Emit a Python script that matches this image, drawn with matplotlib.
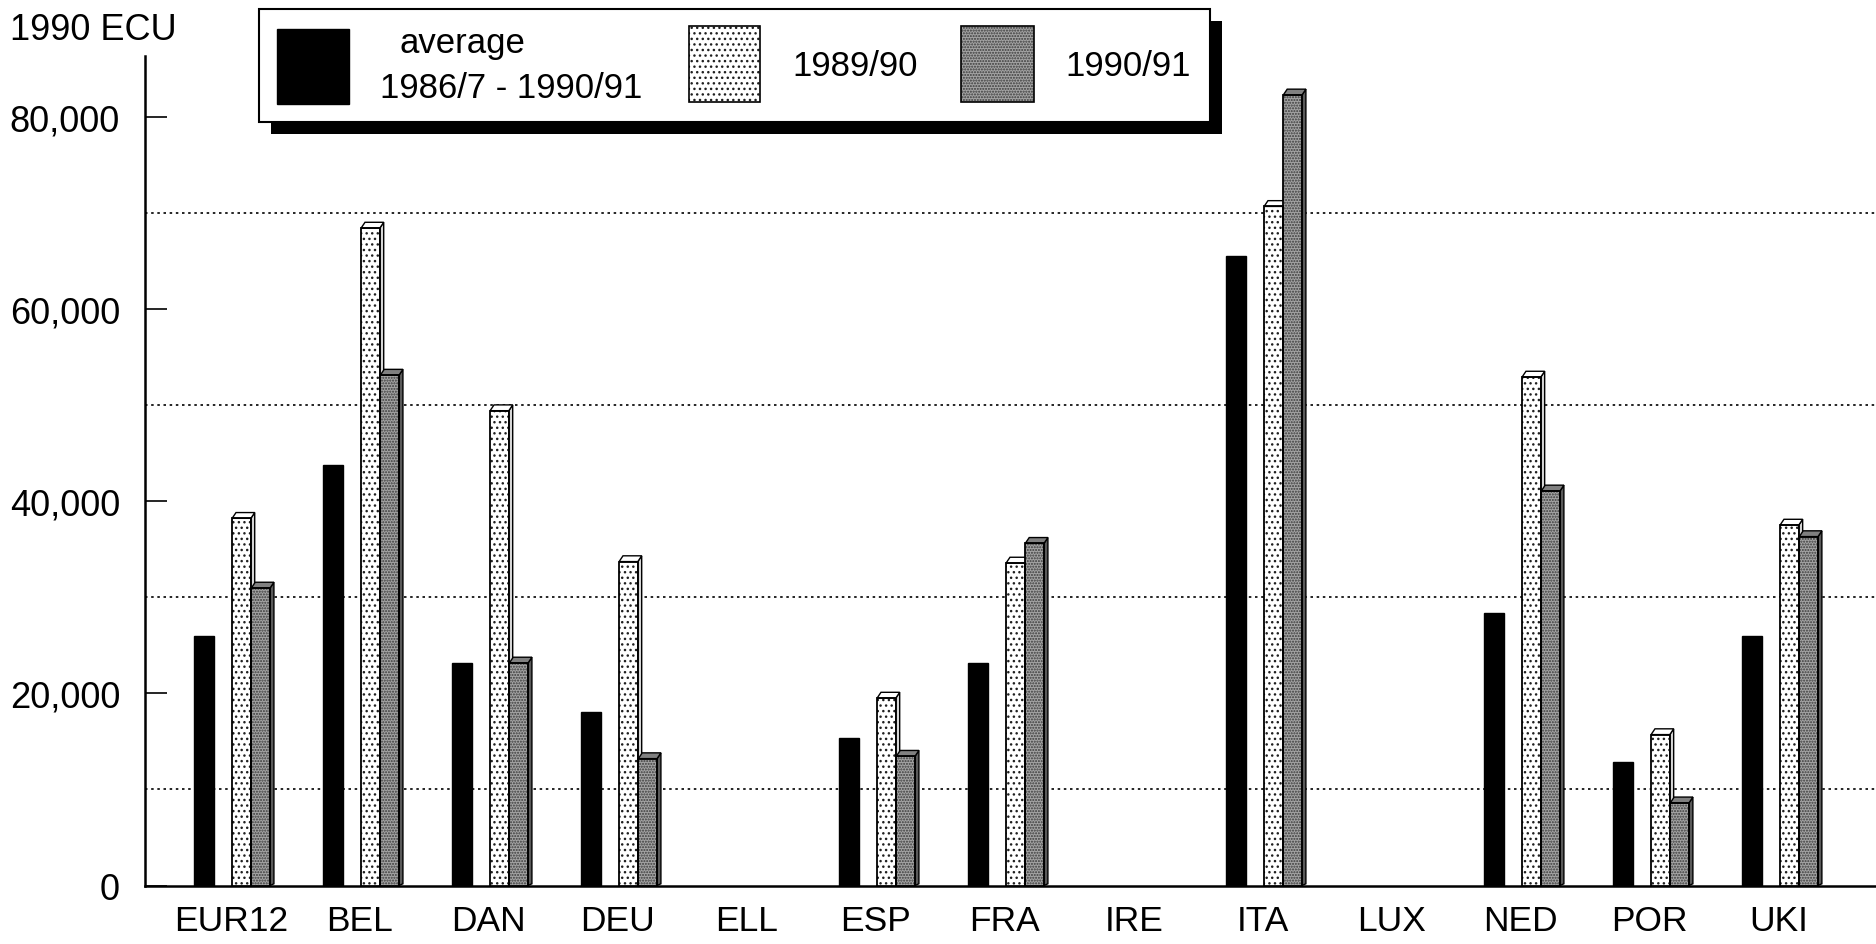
import numpy as np
import matplotlib
matplotlib.use('Agg')
import matplotlib.pyplot as plt
from matplotlib.patches import Rectangle, Polygon
from matplotlib.ticker import FuncFormatter

plt.rcParams['font.family'] = ['Liberation Sans', 'DejaVu Sans']
plt.rcParams['hatch.linewidth'] = 1.0

# data (1990 ECU), nan = no bar
countries = ['EUR12', 'BEL', 'DAN', 'DEU', 'ELL', 'ESP', 'FRA',
             'IRE', 'ITA', 'LUX', 'NED', 'POR', 'UKI']
avg_8691 = [26000, 43700, 23200, 18000, np.nan, 15300, 23100,
            np.nan, 65500, np.nan, 28400, 12800, 26000]
val_8990 = [38200, 68400, 49400, 33700, np.nan, 19500, 33550,
            np.nan, 70650, np.nan, 52900, 15700, 37500]
val_9091 = [30950, 53100, 23150, 13200, np.nan, 13450, 35600,
            np.nan, 82250, np.nan, 41050, 8600, 36300]
series_labels = ['average\n1986/7 - 1990/91', '1989/90', '1990/91']
y_ticks = [0, 20000, 40000, 60000, 80000]
grid_levels = [10000, 30000, 50000, 70000]

W, H = 1876, 945
fig = plt.figure(figsize=(W / 100, H / 100), dpi=100)
ax = fig.add_axes([145 / W, 58.5 / H, (W - 145) / W, (886.5 - 57) / H])

x = np.arange(len(countries))
DX, DY = 0.03, 600  # fake depth of the 3d bars


def bars3d(vals, offset, width, face, side=None, top=None, hatch=None, hatchcol='k'):
    vals = np.array(vals, dtype=float)
    ok = ~np.isnan(vals)
    xs = x[ok] + offset
    vs = vals[ok]
    if hatch:
        ax.bar(xs, vs, width, color=face, edgecolor=hatchcol, hatch=hatch,
               linewidth=0, zorder=3)
        ax.bar(xs, vs, width, fill=False, edgecolor='black', linewidth=1.3, zorder=4)
    else:
        ax.bar(xs, vs, width, color=face, edgecolor='black', linewidth=1.0, zorder=3)
    if side is None:
        return
    for xi, v in zip(xs, vs):
        r = xi + width / 2
        l = xi - width / 2
        ax.add_patch(Polygon([(r, 0), (r + DX, DY * 0.3), (r + DX, v + DY), (r, v)],
                             closed=True, facecolor=side, edgecolor='black',
                             linewidth=1.0, zorder=3))
        ax.add_patch(Polygon([(l, v), (l + DX, v + DY), (r + DX, v + DY), (r, v)],
                             closed=True, facecolor=top, edgecolor='black',
                             linewidth=1.0, zorder=3))


bars3d(avg_8691, -0.21, 0.155, 'black')
bars3d(val_8990, 0.083, 0.145, 'white', '#d6d6d6', 'white', hatch='...', hatchcol='#202020')
bars3d(val_9091, 0.232, 0.145, '#a4a4a4', '#5a5a5a', '#808080', hatch='......', hatchcol='#3a3a3a')

for g in grid_levels:
    ax.axhline(g, color='black', linewidth=1.2, linestyle=(0, (1.5, 2.2)), zorder=1)

ax.set_xlim(-0.665, 12.754)
ax.set_ylim(0, 86300)
ax.set_yticks(y_ticks)
ax.yaxis.set_major_formatter(FuncFormatter(lambda v, p: f'{int(v):,}'))
ax.set_xticks(x)
ax.set_xticklabels(countries)
ax.tick_params(axis='y', direction='in', length=16, width=1.2, pad=18, labelsize=26)
ax.tick_params(axis='x', length=0, pad=13, labelsize=25.5)
for s in ['top', 'right']:
    ax.spines[s].set_visible(False)
ax.spines['left'].set_linewidth(1.8)
ax.spines['bottom'].set_linewidth(1.8)

fig.text(10 / W, 1 - 31 / H, '1990 ECU', fontsize=26, ha='left', va='center')

# legend drawn by hand in pixel coordinates
lax = fig.add_axes([0, 0, 1, 1], zorder=5)
lax.set_xlim(0, W)
lax.set_ylim(H, 0)
lax.axis('off')
lax.add_patch(Rectangle((271, 22), 951, 113, facecolor='black', edgecolor='none'))
lax.add_patch(Rectangle((259, 10), 951, 113, facecolor='white', edgecolor='black', linewidth=1.5))
lax.add_patch(Rectangle((277, 30), 72, 75, facecolor='black', edgecolor='black'))
lax.add_patch(Rectangle((689, 27), 71, 76, facecolor='white', edgecolor='#202020',
                        hatch='...', linewidth=0))
lax.add_patch(Rectangle((689, 27), 71, 76, fill=False, edgecolor='black', linewidth=1.2))
lax.add_patch(Rectangle((961, 27), 73, 76, facecolor='#a4a4a4', edgecolor='#3a3a3a',
                        hatch='......', linewidth=0))
lax.add_patch(Rectangle((961, 27), 73, 76, fill=False, edgecolor='black', linewidth=1.2))
lax.text(462, 43, series_labels[0].split('\n')[0], fontsize=25, ha='center', va='center')
lax.text(511, 89, series_labels[0].split('\n')[1], fontsize=25, ha='center', va='center')
lax.text(855, 66, series_labels[1], fontsize=25, ha='center', va='center')
lax.text(1128, 66, series_labels[2], fontsize=25, ha='center', va='center')

fig.savefig('out.png', dpi=100)
